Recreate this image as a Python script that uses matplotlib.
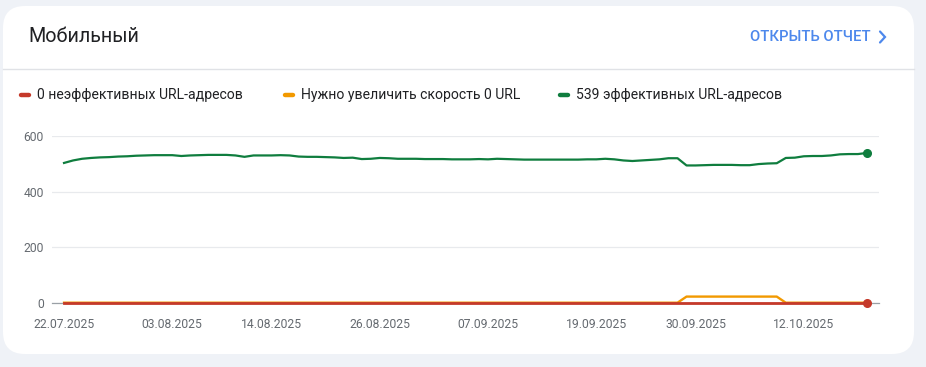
import matplotlib.pyplot as plt
import matplotlib.dates as mdates
import pandas as pd
from matplotlib.patches import FancyBboxPatch

plt.rcParams['font.family'] = ['Roboto', 'DejaVu Sans']

# данные
dates = pd.date_range('2025-07-22', '2025-10-19', freq='D')
good = [503, 512, 518, 521, 523, 524, 526, 527, 529, 530,
        531, 531, 531, 528, 530, 531, 532, 532, 532, 530,
        525, 530, 530, 530, 531, 530, 526, 525, 525, 524,
        523, 521, 522, 517, 518, 521, 520, 518, 518, 518,
        517, 517, 517, 516, 516, 516, 517, 516, 518, 517,
        516, 515, 515, 515, 515, 515, 515, 515, 516, 516,
        518, 516, 512, 510, 512, 514, 516, 520, 520, 494,
        494, 495, 496, 496, 496, 495, 495, 499, 501, 502,
        521, 522, 527, 528, 528, 530, 534, 535, 535, 539]
slow = [0] * 69 + [22] * 11 + [0] * 10
bad = [0] * 90
tick_dates = ['2025-07-22', '2025-08-03', '2025-08-14', '2025-08-26',
              '2025-09-07', '2025-09-19', '2025-09-30', '2025-10-12']
y_ticks = [0, 200, 400, 600]
legend_labels = ['0 неэффективных URL-адресов',
                 'Нужно увеличить скорость 0 URL',
                 '539 эффективных URL-адресов']

c_bad = '#c5392a'
c_slow = '#f29900'
c_good = '#0f7d3e'
W, H = 926, 367

fig = plt.figure(figsize=(W / 100, H / 100), dpi=100)
fig.patch.set_facecolor('#eff2f7')

# фон-карточка в пикселях
bg = fig.add_axes([0, 0, 1, 1])
bg.set_xlim(0, W)
bg.set_ylim(H, 0)
bg.axis('off')
card = FancyBboxPatch((3, 6), 911, 348, boxstyle='round,pad=0,rounding_size=22',
                      facecolor='white', edgecolor='none')
bg.add_patch(card)
bg.plot([3, 914], [69, 69], color='#e0e2e6', lw=1)
bg.text(28, 36, 'Мобильный', fontsize=14.2, color='#202124', va='center')
bg.text(871, 37, 'ОТКРЫТЬ ОТЧЕТ', fontsize=10.6, color='#4d88ec', va='center',
        ha='right', fontweight='medium')
bg.plot([880, 885, 880], [31.5, 37, 42.5], color='#4d88ec', lw=1.6,
        solid_capstyle='round', solid_joinstyle='miter')

leg_x = [20, 284, 559]
for x0, lab, col in zip(leg_x, legend_labels, [c_bad, c_slow, c_good]):
    bg.plot([x0 + 1, x0 + 9], [95, 95], color=col, lw=3.2, solid_capstyle='round')
    bg.text(x0 + 17, 95, lab, fontsize=10.1, color='#202124', va='center')

# график
ax = fig.add_axes([52 / W, 1 - 302.7 / H, (879 - 52) / W, (302.7 - 136) / H])
ax.set_facecolor('none')
ax.plot(dates, slow, color=c_slow, lw=1.7, zorder=3)
ax.plot(dates, bad, color=c_bad, lw=2.0, zorder=4, clip_on=False)
ax.plot(dates, good, color=c_good, lw=1.6, zorder=5)
ax.plot(dates[-1], good[-1], 'o', color=c_good, ms=5.5, zorder=6, clip_on=False)
ax.plot(dates[-1], bad[-1], 'o', color=c_bad, ms=5.5, zorder=6, clip_on=False)

ax.set_ylim(0, 600)
ax.set_xlim(dates[0] - pd.Timedelta(hours=32), dates[-1] + pd.Timedelta(hours=32))
ax.set_yticks(y_ticks)
ax.set_xticks(pd.to_datetime(tick_dates))
ax.xaxis.set_major_formatter(mdates.DateFormatter('%d.%m.%Y'))
ax.grid(axis='y', color='#e8eaed', lw=0.9)
ax.set_axisbelow(True)
for s in ['top', 'right', 'left']:
    ax.spines[s].set_visible(False)
ax.spines['bottom'].set_color('#9aa0a6')
ax.spines['bottom'].set_linewidth(0.9)
ax.tick_params(axis='both', length=0, labelsize=8.7, labelcolor='#656a70')
ax.tick_params(axis='x', pad=11)
ax.tick_params(axis='y', pad=6)

fig.savefig('out.png', dpi=100)
